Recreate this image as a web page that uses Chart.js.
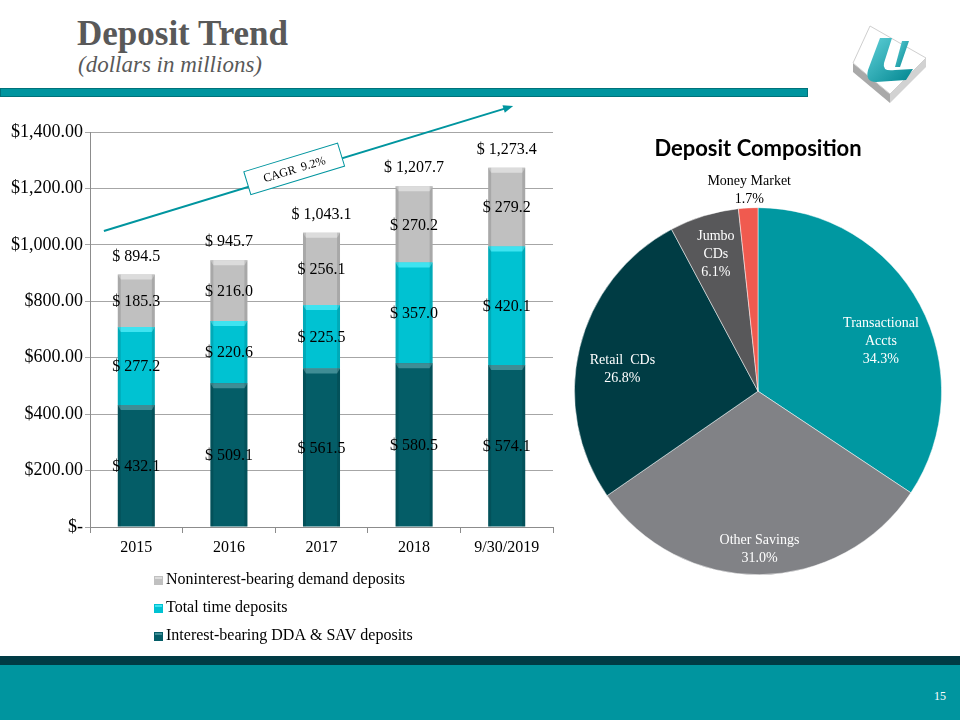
<!DOCTYPE html>
<html>
<head>
<meta charset="utf-8">
<script src="https://cdn.jsdelivr.net/npm/chart.js@4.4.0/dist/chart.umd.min.js"></script>
<style>
body { margin:0; width:960px; height:720px; position:relative; background:#fff; overflow:hidden; font-family:'Liberation Serif', serif; }
.title { position:absolute; left:77px; top:16px; font-size:35px; line-height:1; font-weight:bold; color:#595959; }
.sub { position:absolute; left:78px; top:53px; font-size:23px; line-height:1; font-style:italic; color:#595959; }
.topbar { position:absolute; left:0; top:88px; width:808px; height:9px; background:#00959f; border:1px solid #00727a; box-sizing:border-box; }
#bar { position:absolute; left:0; top:98px; }
#pie { position:absolute; left:565px; top:130px; }
.band1 { position:absolute; left:0; top:656px; width:960px; height:9px; background:#003b45; }
.band2 { position:absolute; left:0; top:665px; width:960px; height:55px; background:#00959f; }
.pg { position:absolute; right:14px; top:689px; color:#fff; font-size:12px; }
</style>
</head>
<body>
<div class="title">Deposit Trend</div>
<div class="sub">(dollars in millions)</div>
<div class="topbar"></div>
<svg style="position:absolute;left:845px;top:18px" width="90" height="95" viewBox="845 18 90 95">
  <defs>
    <linearGradient id="ug" x1="0" y1="0" x2="1" y2="1">
      <stop offset="0" stop-color="#5fd0d8"/>
      <stop offset="1" stop-color="#00858f"/>
    </linearGradient>
  </defs>
  <polygon points="853,63 890,94 890,103 853,72" fill="#a9a9a9"/>
  <polygon points="890,94 926,58 926,67 890,103" fill="#d2d2d2"/>
  <polygon points="870,26 926,58 890,94 853,63" fill="#ffffff" stroke="#cfcfcf"/>
  <path d="M880,38 L892,38 L884,63 Q882,72 895,70 L913,69 L906,80 L876,82 Q865,82 868,70 Z" fill="url(#ug)"/>
  <path d="M902,41 L909,41 L900,67 L895,67 Z" fill="url(#ug)"/>
</svg>

<canvas id="bar" width="565" height="562"></canvas>
<canvas id="pie" width="386" height="450"></canvas>

<div class="band1"></div>
<div class="band2"></div>
<div class="pg">15</div>

<script>
// bar chart data
var years = ['2015', '2016', '2017', '2018', '9/30/2019'];
var interestBearing = [432.1, 509.1, 561.5, 580.5, 574.1];
var timeDeposits = [277.2, 220.6, 225.5, 357.0, 420.1];
var nonInterest = [185.3, 216.0, 256.1, 270.2, 279.2];
var totals = [894.5, 945.7, 1043.1, 1207.7, 1273.4];
var yTickLabels = ['$-', '$200.00', '$400.00', '$600.00', '$800.00', '$1,000.00', '$1,200.00', '$1,400.00'];

// pie data
var pieLabels = ['Transactional Accts', 'Other Savings', 'Retail CDs', 'Jumbo CDs', 'Money Market'];
var pieLines = [['Transactional', 'Accts'], ['Other Savings'], ['Retail  CDs'], ['Jumbo', 'CDs'], ['Money Market']];
var pieValues = [34.3, 31.0, 26.8, 6.1, 1.7];

Chart.defaults.font.family = '"Liberation Serif", serif';
Chart.defaults.color = '#000';

function money(v) {
  return '$ ' + v.toLocaleString('en-US', {minimumFractionDigits: 1, maximumFractionDigits: 1});
}

var barDeco = {
  id: 'barDeco',
  afterDatasetsDraw: function(chart) {
    var ctx = chart.ctx;
    ctx.save();
    // bevel highlights on each bar
    chart.data.datasets.forEach(function(ds, di) {
      chart.getDatasetMeta(di).data.forEach(function(bar) {
        var w = bar.width, l = bar.x - w / 2, t = bar.y, b = bar.base;
        ctx.fillStyle = ds.bevel;
        ctx.beginPath();
        ctx.moveTo(l, t); ctx.lineTo(l + w, t); ctx.lineTo(l + w - 3, t + 5); ctx.lineTo(l + 3, t + 5);
        ctx.closePath(); ctx.fill();
        ctx.fillStyle = 'rgba(0,0,0,0.12)';
        ctx.fillRect(l, t, 3, b - t);
        ctx.fillRect(l + w - 3, t, 3, b - t);
      });
    });
    ctx.font = '16px "Liberation Serif"';
    ctx.fillStyle = '#000';
    ctx.textAlign = 'center';
    ctx.textBaseline = 'middle';
    chart.data.datasets.forEach(function(ds, di) {
      chart.getDatasetMeta(di).data.forEach(function(bar, i) {
        ctx.fillText(money(ds.data[i]), bar.x, (bar.y + bar.base) / 2 + 1);
      });
    });
    var topBars = chart.getDatasetMeta(chart.data.datasets.length - 1).data;
    topBars.forEach(function(bar, i) {
      ctx.fillText(money(totals[i]), bar.x, bar.y - 18);
    });
    ctx.restore();
  },
  afterDraw: function(chart) {
    var ctx = chart.ctx, xs = chart.scales.x, ys = chart.scales.y;
    ctx.save();
    // legend, reversed like the original
    var left = chart.chartArea.left, bottom = chart.chartArea.bottom;
    var items = chart.data.datasets.slice().reverse();
    ctx.font = '16px "Liberation Serif"';
    ctx.textBaseline = 'middle';
    ctx.textAlign = 'left';
    items.forEach(function(ds, k) {
      var y = bottom + 53 + k * 28;
      ctx.fillStyle = ds.backgroundColor;
      ctx.fillRect(left + 64, y - 4, 9, 9);
      ctx.fillStyle = ds.bevel;
      ctx.fillRect(left + 65, y - 3, 7, 2);
      ctx.fillStyle = '#000';
      ctx.fillText(ds.label, left + 76, y);
    });
    // CAGR arrow
    var x1 = xs.getPixelForValue(-0.35), y1 = ys.getPixelForValue(1049);
    var x2 = xs.getPixelForValue(4.07), y2 = ys.getPixelForValue(1492);
    var ang = Math.atan2(y2 - y1, x2 - x1);
    ctx.strokeStyle = '#00959f';
    ctx.fillStyle = '#00959f';
    ctx.lineWidth = 2;
    ctx.beginPath();
    ctx.moveTo(x1, y1);
    ctx.lineTo(x2 - 8 * Math.cos(ang), y2 - 8 * Math.sin(ang));
    ctx.stroke();
    ctx.beginPath();
    ctx.moveTo(x2, y2);
    ctx.lineTo(x2 - 10 * Math.cos(ang) + 4 * Math.sin(ang), y2 - 10 * Math.sin(ang) - 4 * Math.cos(ang));
    ctx.lineTo(x2 - 10 * Math.cos(ang) - 4 * Math.sin(ang), y2 - 10 * Math.sin(ang) + 4 * Math.cos(ang));
    ctx.closePath();
    ctx.fill();
    var cx = x1 + (x2 - x1) * 0.465, cy = y1 + (y2 - y1) * 0.465 - 4;
    ctx.translate(cx, cy);
    ctx.rotate(ang);
    ctx.fillStyle = '#fff';
    ctx.fillRect(-49, -12, 98, 24);
    ctx.lineWidth = 1;
    ctx.strokeRect(-49, -12, 98, 24);
    ctx.fillStyle = '#000';
    ctx.font = '12px "Liberation Serif"';
    ctx.textAlign = 'center';
    ctx.fillText('CAGR  9.2%', 0, 1);
    ctx.restore();
  }
};

new Chart(document.getElementById('bar'), {
  type: 'bar',
  data: {
    labels: years,
    datasets: [
      { label: 'Interest-bearing DDA & SAV deposits', data: interestBearing, backgroundColor: '#045d67', bevel: '#3f8d95', borderWidth: 0 },
      { label: 'Total time deposits', data: timeDeposits, backgroundColor: '#00c2d2', bevel: '#3fe3f0', borderWidth: 0 },
      { label: 'Noninterest-bearing demand deposits', data: nonInterest, backgroundColor: '#c0c0c0', bevel: '#dcdcdc', borderWidth: 0 }
    ]
  },
  options: {
    responsive: false,
    animation: false,
    categoryPercentage: 0.8,
    barPercentage: 0.5,
    layout: { padding: { top: 34, right: 12, left: 0, bottom: 0 } },
    plugins: { legend: { display: false }, tooltip: { enabled: false } },
    scales: {
      x: {
        stacked: true,
        grid: { drawOnChartArea: false, tickLength: 6, color: '#8c8c8c' },
        border: { color: '#8c8c8c' },
        ticks: { font: { size: 16 }, color: '#000', padding: 5 },
        afterFit: function(s) { s.height = 133; }
      },
      y: {
        stacked: true,
        min: 0,
        max: 1400,
        grid: { color: '#a6a6a6', tickLength: 5 },
        border: { color: '#8c8c8c' },
        ticks: {
          stepSize: 200,
          font: { size: 18 },
          color: '#000',
          padding: 2,
          callback: function(v, i) { return yTickLabels[i]; }
        },
        afterFit: function(s) { s.width = 90; }
      }
    }
  },
  plugins: [barDeco]
});

var pieText = {
  id: 'pieText',
  afterDatasetsDraw: function(chart, args, opts) {
    var ctx = chart.ctx;
    var ds = chart.data.datasets[0];
    ctx.save();
    ctx.font = '14px "Liberation Serif"';
    ctx.textAlign = 'center';
    ctx.textBaseline = 'middle';
    chart.getDatasetMeta(0).data.forEach(function(arc, i) {
      var mid = (arc.startAngle + arc.endAngle) / 2;
      var r = arc.outerRadius * opts.radius[i];
      var x = arc.x + Math.cos(mid) * r + opts.dx[i];
      var y = arc.y + Math.sin(mid) * r + opts.dy[i];
      var lines = pieLines[i].concat([ds.data[i].toFixed(1) + '%']);
      ctx.fillStyle = opts.colors[i];
      var y0 = y - (lines.length - 1) * 9;
      lines.forEach(function(t, k) { ctx.fillText(t, x, y0 + k * 18); });
    });
    ctx.restore();
  }
};

new Chart(document.getElementById('pie'), {
  type: 'pie',
  data: {
    labels: pieLabels,
    datasets: [{
      data: pieValues,
      backgroundColor: ['#0098a1', '#818286', '#003c44', '#58585a', '#f05a4f'],
      borderColor: '#ffffff',
      borderWidth: 0.5
    }]
  },
  options: {
    responsive: false,
    animation: false,
    layout: { padding: { left: 9, right: 9, top: 0, bottom: 5 } },
    plugins: {
      legend: { display: false },
      tooltip: { enabled: false },
      title: {
        display: true,
        text: 'Deposit Composition',
        color: '#000',
        font: { family: 'Lato', size: 22, weight: 'bold' },
        padding: { top: 6, bottom: 45 }
      },
      pieText: {
        radius: [0.76, 0.85, 0.76, 0.78, 1.1],
        dx: [0, 0, 0, 0, 2],
        dy: [16, 2, 11, 0, 1],
        colors: ['#fff', '#fff', '#fff', '#fff', '#000']
      }
    }
  },
  plugins: [pieText]
});
</script>
</body>
</html>
